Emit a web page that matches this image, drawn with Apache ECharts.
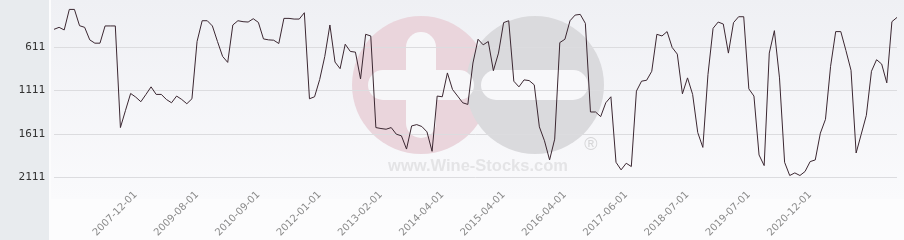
<!DOCTYPE html>
<html>
<head>
<meta charset="utf-8">
<script src="https://cdn.jsdelivr.net/npm/echarts@6/dist/echarts.min.js"></script>
<style>
html,body{margin:0;padding:0;background:#fcfcfd;}
#chart{width:904px;height:240px;}
</style>
</head>
<body>
<div id="chart"></div>
<script>
// Dates of the observations (category axis)
const categories = [
  '2006-08-01','2006-09-01','2006-10-01','2006-11-01','2006-12-01','2007-01-01','2007-02-01','2007-03-01',
  '2007-04-01','2007-05-01','2007-06-01','2007-07-01','2007-08-01','2007-09-01','2007-10-01','2007-11-01',
  '2007-12-01','2008-01-01','2008-03-01','2008-05-01','2008-07-01','2008-09-01','2008-11-01','2009-01-01',
  '2009-03-01','2009-04-01','2009-05-01','2009-07-01',
  '2009-08-01','2009-09-01','2009-10-01','2009-11-01','2009-12-01','2010-01-01','2010-02-01','2010-03-01',
  '2010-04-01','2010-05-01','2010-06-01','2010-08-01',
  '2010-09-01','2010-10-01','2010-12-01','2011-01-01','2011-02-01','2011-03-01','2011-05-01','2011-06-01',
  '2011-07-01','2011-09-01','2011-10-01','2011-12-01',
  '2012-01-01','2012-02-01','2012-03-01','2012-04-01','2012-05-01','2012-06-01','2012-07-01','2012-08-01',
  '2012-09-01','2012-10-01','2012-11-01','2012-12-01',
  '2013-02-01','2013-03-01','2013-04-01','2013-05-01','2013-06-01','2013-07-01','2013-09-01','2013-10-01',
  '2013-11-01','2013-12-01','2014-01-01','2014-03-01',
  '2014-04-01','2014-05-01','2014-06-01','2014-07-01','2014-08-01','2014-09-01','2014-10-01','2014-11-01',
  '2014-12-01','2015-01-01','2015-02-01','2015-03-01',
  '2015-04-01','2015-05-01','2015-06-01','2015-07-01','2015-08-01','2015-09-01','2015-10-01','2015-11-01',
  '2015-12-01','2016-01-01','2016-02-01','2016-03-01',
  '2016-04-01','2016-05-01','2016-06-01','2016-07-01','2016-08-01','2016-09-01','2016-10-01','2016-11-01',
  '2016-12-01','2017-01-01','2017-03-01','2017-05-01',
  '2017-06-01','2017-07-01','2017-08-01','2017-09-01','2017-10-01','2017-11-01','2017-12-01','2018-01-01',
  '2018-02-01','2018-03-01','2018-04-01','2018-05-01',
  '2018-07-01','2018-08-01','2018-09-01','2018-10-01','2018-11-01','2018-12-01','2019-01-01','2019-02-01',
  '2019-03-01','2019-04-01','2019-05-01','2019-06-01',
  '2019-07-01','2019-08-01','2019-09-01','2019-10-01','2019-12-01','2020-01-01','2020-02-01','2020-04-01',
  '2020-06-01','2020-07-01','2020-09-01','2020-11-01',
  '2020-12-01','2021-01-01','2021-02-01','2021-03-01','2021-04-01','2021-05-01','2021-06-01','2021-07-01',
  '2021-08-01','2021-09-01','2021-10-01','2021-11-01','2021-12-01','2022-01-01','2022-02-01','2022-03-01',
  '2022-04-01','2022-05-01'
];

// Rank values (lower is better, axis inverted)
const rankValues = [
  410,387,417,181,181,368,387,531,569,569,371,371,371,1539,1341,1147,
  1189,1242,1158,1071,1158,1158,1216,1254,1177,1216,1265,1208,
  550,311,311,371,550,721,790,360,311,322,326,288,
  330,520,531,535,573,284,284,292,292,219,1208,1185,
  987,721,360,786,862,581,664,672,980,467,486,1539,
  1550,1558,1539,1615,1634,1786,1520,1505,1527,1588,1812,1177,
  1185,911,1101,1177,1254,1273,797,524,588,550,885,683,
  333,311,1006,1071,991,999,1048,1531,1691,1911,1672,562,
  524,311,246,238,341,1360,1360,1413,1254,1185,1938,2025,
  1949,1987,1120,1006,995,892,467,486,436,619,695,1151,
  968,1158,1596,1767,930,398,326,349,683,333,265,265,
  1094,1177,1854,1976,683,425,968,1938,2090,2060,2090,2044,
  1930,1911,1603,1444,835,436,436,653,881,1831,1615,1398,
  892,759,809,1025,322,273
];

// Labels shown on the x axis
const xTickLabels = ['2007-12-01','2009-08-01','2010-09-01','2012-01-01','2013-02-01','2014-04-01',
  '2015-04-01','2016-04-01','2017-06-01','2018-07-01','2019-07-01','2020-12-01'];

// Labels shown on the y axis
const yTickLabels = [611, 1111, 1611, 2111];

const chart = echarts.init(document.getElementById('chart'), null, {renderer: 'canvas'});

const option = {
  backgroundColor: '#fcfcfd',
  animation: false,
  graphic: [
    {type: 'rect', z: -10, silent: true, shape: {x: 0, y: 0, width: 49, height: 240}, style: {fill: '#e8ebee'}},
    {type: 'rect', z: -10, silent: true, shape: {x: 51, y: 0, width: 853, height: 199},
      style: {fill: new echarts.graphic.LinearGradient(0, 0, 0, 1, [
        {offset: 0, color: '#eff0f4'}, {offset: 1, color: '#fafafc'}])}},
    {type: 'circle', z: -9, silent: true, shape: {cx: 421, cy: 85, r: 69}, style: {fill: '#ead5dc'}},
    {type: 'circle', z: -8, silent: true, shape: {cx: 535, cy: 85, r: 69}, style: {fill: '#dadadd'}},
    {type: 'rect', z: -7, silent: true, shape: {x: 406, y: 32, width: 30, height: 106, r: 15}, style: {fill: '#f7f7f9'}},
    {type: 'rect', z: -7, silent: true, shape: {x: 368, y: 70, width: 106, height: 30, r: 15}, style: {fill: '#f7f7f9'}},
    {type: 'rect', z: -7, silent: true, shape: {x: 481, y: 70, width: 107, height: 30, r: 15}, style: {fill: '#f8f8fa'}},
    {type: 'text', z: -7, silent: true, x: 591, y: 145,
      style: {text: '®', fill: '#d6d6d8', font: '18px "Liberation Sans"', align: 'center', verticalAlign: 'middle'}},
    {type: 'text', z: -7, silent: true, x: 478, y: 166,
      style: {text: 'www.Wine-Stocks.com', fill: '#e4e4e6', font: 'bold 16.5px "Liberation Sans"', align: 'center', verticalAlign: 'middle'}}
  ],
  grid: {left: 54, right: 7, top: 3.33, height: 184.6, containLabel: false},
  xAxis: {
    type: 'category',
    boundaryGap: false,
    data: categories,
    axisLine: {show: false},
    axisTick: {show: false},
    splitLine: {show: false},
    axisLabel: {
      rotate: 45,
      interval: function (index, value) { return xTickLabels.indexOf(value) >= 0; },
      color: '#8a8a8a',
      fontSize: 10,
      fontFamily: 'DejaVu Sans',
      margin: 6
    }
  },
  yAxis: {
    type: 'value',
    inverse: true,
    min: 111,
    max: 2225,
    interval: 500,
    axisLine: {show: false},
    axisTick: {show: false},
    axisLabel: {
      formatter: function (v) { return yTickLabels.indexOf(v) >= 0 ? String(v) : ''; },
      color: '#333',
      fontSize: 11,
      fontFamily: 'DejaVu Sans Mono',
      margin: 9
    },
    splitLine: {
      show: true,
      lineStyle: {color: ['rgba(0,0,0,0)', '#dcdcdf', '#dcdcdf', '#dcdcdf', '#dcdcdf', 'rgba(0,0,0,0)'], width: 1}
    }
  },
  series: [{
    type: 'line',
    data: rankValues,
    showSymbol: false,
    symbol: 'none',
    lineStyle: {color: '#3b2731', width: 1},
    z: 5
  }]
};
chart.setOption(option);
</script>
</body>
</html>
